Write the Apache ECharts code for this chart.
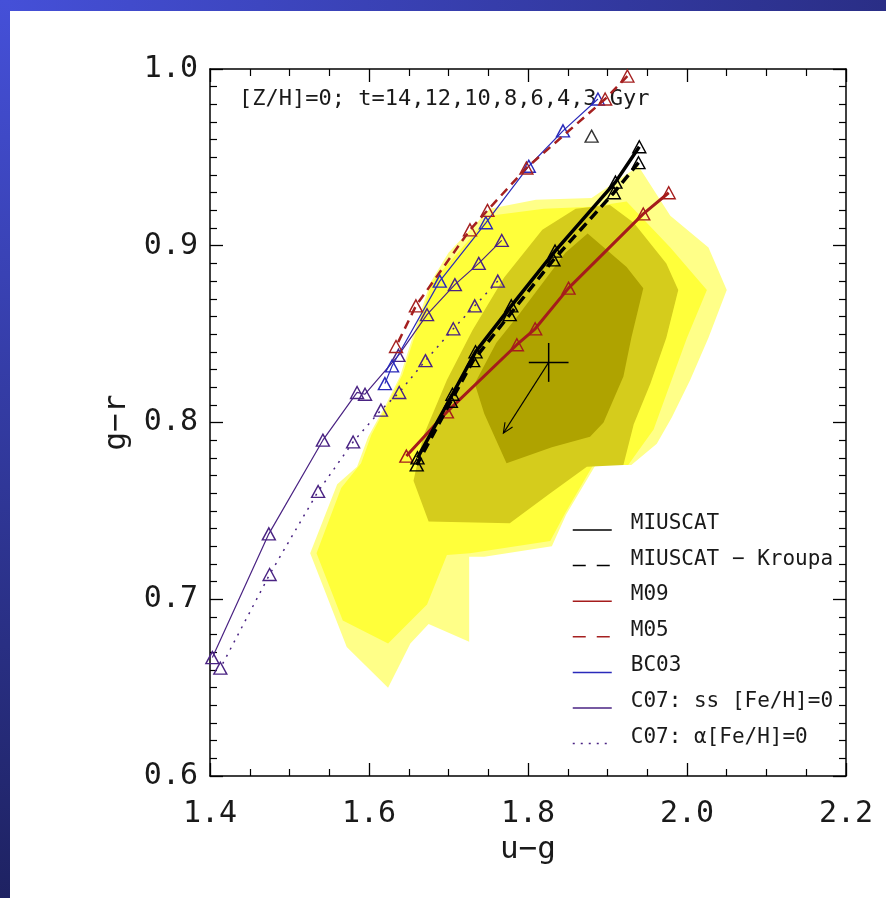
<!DOCTYPE html>
<html>
<head>
<meta charset="utf-8">
<script src="https://cdn.jsdelivr.net/npm/echarts@6/dist/echarts.min.js"></script>
<style>
  html, body { margin: 0; padding: 0; background: #fff; }
  #chart { width: 886px; height: 898px; }
</style>
</head>
<body>
<div id="chart"></div>
<script>
// ---- axis ticks ----
const xTickLabels = ['1.4', '1.6', '1.8', '2.0', '2.2'];
const yTickLabels = ['0.6', '0.7', '0.8', '0.9', '1.0'];

// ---- SDSS galaxy density contours in (u-g, g-r), outer to inner ----
const contourPale = [
  [1.700, 0.896], [1.752, 0.921], [1.810, 0.926], [1.880, 0.927], [1.939, 0.945],
  [1.979, 0.917], [2.027, 0.899], [2.050, 0.875], [2.027, 0.848], [2.004, 0.824],
  [1.981, 0.803], [1.962, 0.788], [1.930, 0.776], [1.885, 0.776], [1.848, 0.748],
  [1.830, 0.730], [1.745, 0.724], [1.726, 0.724], [1.726, 0.676], [1.675, 0.686],
  [1.652, 0.675], [1.624, 0.650], [1.572, 0.673], [1.526, 0.726], [1.560, 0.765],
  [1.585, 0.775], [1.599, 0.792], [1.620, 0.809], [1.639, 0.826], [1.656, 0.850],
  [1.677, 0.879]
];
const contourYellow = [
  [1.706, 0.893], [1.752, 0.917], [1.820, 0.921], [1.880, 0.922], [1.924, 0.925],
  [1.979, 0.899], [2.025, 0.875], [2.000, 0.848], [1.979, 0.822], [1.958, 0.796],
  [1.926, 0.776], [1.882, 0.776], [1.847, 0.749], [1.828, 0.733], [1.727, 0.726],
  [1.698, 0.725], [1.673, 0.697], [1.624, 0.675], [1.567, 0.688], [1.534, 0.726],
  [1.565, 0.763], [1.590, 0.777], [1.603, 0.793], [1.623, 0.810], [1.642, 0.827],
  [1.659, 0.851], [1.680, 0.880]
];
const contourOlive = [
  [1.818, 0.909], [1.860, 0.921], [1.903, 0.923], [1.933, 0.913], [1.974, 0.890],
  [1.989, 0.875], [1.974, 0.848], [1.954, 0.822], [1.933, 0.799], [1.920, 0.776],
  [1.874, 0.775], [1.828, 0.760], [1.777, 0.743], [1.675, 0.744], [1.656, 0.767],
  [1.668, 0.792], [1.698, 0.824], [1.730, 0.852], [1.770, 0.882]
];
const contourDark = [
  [1.875, 0.907], [1.924, 0.888], [1.945, 0.876], [1.930, 0.848], [1.920, 0.826],
  [1.895, 0.800], [1.878, 0.792], [1.830, 0.786], [1.773, 0.777], [1.745, 0.805],
  [1.733, 0.822], [1.760, 0.845], [1.790, 0.862], [1.847, 0.896]
];

// ---- model tracks, [Z/H]=0, t = 14,12,10,8,6,4,3 Gyr ----
const miuscat = [[1.940, 0.956], [1.910, 0.936], [1.834, 0.897], [1.779, 0.866], [1.734, 0.840], [1.705, 0.816], [1.661, 0.780]];
const miuscatKroupa = [[1.939, 0.947], [1.908, 0.930], [1.832, 0.892], [1.777, 0.861], [1.731, 0.835], [1.703, 0.812], [1.660, 0.776]];
const miuscatExtra = [[1.880, 0.962]];
const m09 = [[1.977, 0.930], [1.945, 0.918], [1.851, 0.876], [1.809, 0.853], [1.786, 0.844], [1.698, 0.806], [1.647, 0.781]];
const m05 = [[1.925, 0.996], [1.897, 0.983], [1.798, 0.944], [1.749, 0.920], [1.727, 0.909], [1.659, 0.866], [1.634, 0.843]];
const bc03 = [[1.888, 0.983], [1.844, 0.965], [1.801, 0.945], [1.747, 0.913], [1.689, 0.880], [1.629, 0.832], [1.620, 0.822]];
const c07ss = [[1.767, 0.903], [1.738, 0.890], [1.708, 0.878], [1.673, 0.861], [1.637, 0.838], [1.595, 0.816], [1.585, 0.817], [1.542, 0.790], [1.474, 0.737], [1.403, 0.667]];
const c07alpha = [[1.762, 0.880], [1.733, 0.866], [1.706, 0.853], [1.671, 0.835], [1.638, 0.817], [1.615, 0.807], [1.580, 0.789], [1.536, 0.761], [1.475, 0.714], [1.413, 0.661]];

// ---- typical error bars and reddening vector ----
const crossCenter = [1.826, 0.834];
const crossHalf = [0.025, 0.011];
const arrowTip = [1.769, 0.794];

const FONT = "'DejaVu Sans Mono', monospace";
const INK = '#1a1a1a';

function contourSeries(points, color) {
  return {
    type: 'custom',
    coordinateSystem: 'cartesian2d',
    silent: true,
    z: 1,
    clip: true,
    data: points,
    encode: { x: 0, y: 1 },
    renderItem: function (params, api) {
      if (params.dataIndex !== 0) return null;
      return {
        type: 'polygon',
        shape: { points: points.map(function (p) { return api.coord(p); }) },
        style: { fill: color, stroke: null }
      };
    }
  };
}

function trackSeries(name, data, color, width, type, z) {
  return {
    name: name,
    type: 'line',
    data: data,
    z: z,
    clip: true,
    symbol: 'triangle',
    symbolSize: [13, 12],
    showAllSymbol: true,
    lineStyle: { color: color, width: width, type: type },
    itemStyle: { color: 'rgba(255,255,255,0)', borderColor: color, borderWidth: 1.4 },
    emphasis: { disabled: true }
  };
}

const chart = echarts.init(document.getElementById('chart'), null, { renderer: 'canvas' });

const axisCommon = {
  type: 'value',
  axisLine: { show: true, lineStyle: { color: '#000', width: 1.5 } },
  axisTick: { show: true, inside: true, length: 13, lineStyle: { color: '#000', width: 1.3 } },
  minorTick: { show: true, length: 7, lineStyle: { color: '#000', width: 1.2 } },
  splitLine: { show: false },
  minorSplitLine: { show: false }
};

const option = {
  animation: false,
  backgroundColor: '#ffffff',
  textStyle: { fontFamily: FONT },
  graphic: [
    {
      type: 'rect', z: 100, silent: true,
      shape: { x: 0, y: 0, width: 886, height: 11 },
      style: { fill: new echarts.graphic.LinearGradient(0, 0, 1, 0, [
        { offset: 0, color: '#4550D8' }, { offset: 1, color: '#2A2E86' }]) }
    },
    {
      type: 'rect', z: 100, silent: true,
      shape: { x: 0, y: 0, width: 10, height: 898 },
      style: { fill: new echarts.graphic.LinearGradient(0, 0, 0, 1, [
        { offset: 0, color: '#4550D8' }, { offset: 1, color: '#1E2262' }]) }
    }
  ],
  title: {
    text: '[Z/H]=0; t=14,12,10,8,6,4,3 Gyr',
    left: 239, top: 88, padding: 0, z: 1,
    textStyle: { fontFamily: FONT, fontSize: 22, fontWeight: 'normal', color: INK }
  },
  grid: { left: 210, top: 69, right: 40, bottom: 122 },
  xAxis: [
    Object.assign({}, axisCommon, {
      position: 'bottom', min: 1.4, max: 2.2, interval: 0.2,
      minorTick: Object.assign({}, axisCommon.minorTick, { splitNumber: 4 }),
      name: 'u−g', nameLocation: 'middle', nameGap: 58,
      nameTextStyle: { fontFamily: FONT, fontSize: 31, color: INK },
      axisLabel: {
        margin: 23, fontFamily: FONT, fontSize: 30, color: INK,
        formatter: function (v, i) { return xTickLabels[i]; }
      }
    }),
    Object.assign({}, axisCommon, {
      position: 'top', min: 1.4, max: 2.2, interval: 0.2,
      minorTick: Object.assign({}, axisCommon.minorTick, { splitNumber: 4 }),
      axisLabel: { show: false }
    })
  ],
  yAxis: [
    Object.assign({}, axisCommon, {
      position: 'left', min: 0.6, max: 1.0, interval: 0.1,
      minorTick: Object.assign({}, axisCommon.minorTick, { splitNumber: 10 }),
      name: 'g−r', nameLocation: 'middle', nameGap: 76, nameRotate: 90,
      nameTextStyle: { fontFamily: FONT, fontSize: 31, color: INK },
      axisLabel: {
        margin: 12, fontFamily: FONT, fontSize: 30, color: INK,
        formatter: function (v, i) { return yTickLabels[i]; }
      }
    }),
    Object.assign({}, axisCommon, {
      position: 'right', min: 0.6, max: 1.0, interval: 0.1,
      minorTick: Object.assign({}, axisCommon.minorTick, { splitNumber: 10 }),
      axisLabel: { show: false }
    })
  ],
  legend: {
    orient: 'vertical',
    left: 572, top: 513, padding: 0,
    itemWidth: 39, itemHeight: 14, itemGap: 1.6,
    selectedMode: false,
    itemStyle: { opacity: 0 },
    lineStyle: { width: 1.5 },
    formatter: function (name) { return '{t|' + name + '}'; },
    textStyle: {
      fontFamily: FONT, fontSize: 21, color: INK,
      rich: { t: { fontFamily: FONT, fontSize: 21, lineHeight: 22, color: INK, padding: [0, 0, 13, 14] } }
    },
    data: [
      { name: 'MIUSCAT' },
      { name: 'MIUSCAT − Kroupa', lineStyle: { type: [13, 11] } },
      { name: 'M09' },
      { name: 'M05', lineStyle: { type: [13, 11] } },
      { name: 'BC03' },
      { name: 'C07: ss [Fe/H]=0' },
      { name: 'C07: α[Fe/H]=0', lineStyle: { type: [2, 6] } }
    ]
  },
  series: [
    contourSeries(contourPale, '#FFFF88'),
    contourSeries(contourYellow, '#FFFF3A'),
    contourSeries(contourOlive, '#D5CC1C'),
    contourSeries(contourDark, '#AFA300'),
    trackSeries('C07: α[Fe/H]=0', c07alpha, '#4A2383', 1.5, [2, 6], 3),
    trackSeries('C07: ss [Fe/H]=0', c07ss, '#4A2383', 1.2, 'solid', 3),
    trackSeries('BC03', bc03, '#2A2ABA', 1.2, 'solid', 4),
    trackSeries('M05', m05, '#A52020', 2.5, [9, 6], 5),
    trackSeries('M09', m09, '#A51C1C', 3, 'solid', 5),
    trackSeries('MIUSCAT − Kroupa', miuscatKroupa, '#000000', 3.5, [10, 6], 6),
    trackSeries('MIUSCAT', miuscat, '#000000', 3.5, 'solid', 7),
    {
      type: 'scatter',
      data: miuscatExtra,
      z: 7,
      symbol: 'triangle',
      symbolSize: [13, 12],
      itemStyle: { color: 'rgba(255,255,255,0)', borderColor: '#000', borderWidth: 1.4 },
      emphasis: { disabled: true }
    },
    {
      type: 'custom',
      coordinateSystem: 'cartesian2d',
      silent: true,
      z: 8,
      data: [crossCenter],
      encode: { x: 0, y: 1 },
      renderItem: function (params, api) {
        const c = api.coord(crossCenter);
        const l = api.coord([crossCenter[0] - crossHalf[0], crossCenter[1]]);
        const r = api.coord([crossCenter[0] + crossHalf[0], crossCenter[1]]);
        const t = api.coord([crossCenter[0], crossCenter[1] + crossHalf[1]]);
        const b = api.coord([crossCenter[0], crossCenter[1] - crossHalf[1]]);
        const tip = api.coord(arrowTip);
        const ang = Math.atan2(tip[1] - c[1], tip[0] - c[0]);
        const hl = 11, ha = 0.42;
        const h1 = [tip[0] - hl * Math.cos(ang - ha), tip[1] - hl * Math.sin(ang - ha)];
        const h2 = [tip[0] - hl * Math.cos(ang + ha), tip[1] - hl * Math.sin(ang + ha)];
        const s = { stroke: '#000', lineWidth: 1.5, fill: null };
        const thin = { stroke: '#000', lineWidth: 1.1, fill: null };
        return {
          type: 'group',
          children: [
            { type: 'line', shape: { x1: l[0], y1: l[1], x2: r[0], y2: r[1] }, style: s },
            { type: 'line', shape: { x1: t[0], y1: t[1], x2: b[0], y2: b[1] }, style: s },
            { type: 'line', shape: { x1: c[0], y1: c[1], x2: tip[0], y2: tip[1] }, style: thin },
            { type: 'polyline', shape: { points: [h1, tip, h2] }, style: thin }
          ]
        };
      }
    }
  ]
};

chart.setOption(option);
</script>
</body>
</html>
